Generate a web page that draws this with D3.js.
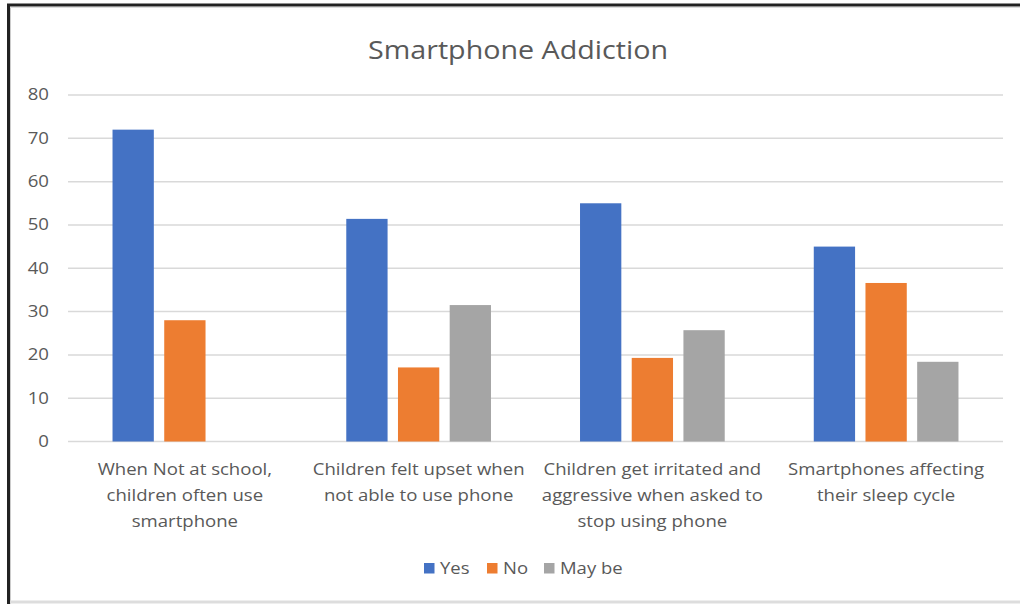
<!DOCTYPE html>
<html><head><meta charset="utf-8">
<script src="https://cdn.jsdelivr.net/npm/d3@7"></script>
<style>body{margin:0;background:#fff;} svg{display:block;}</style>
</head><body>
<svg id="c" width="1020" height="604"></svg>
<script>
const categories = [
  ["When Not at school,", "children often use", "smartphone"],
  ["Children felt upset when", "not able to use phone"],
  ["Children get irritated and", "aggressive when asked to", "stop using phone"],
  ["Smartphones affecting", "their sleep cycle"]
];
const seriesNames = ["Yes", "No", "May be"];
const yesValues = [72, 51.4, 55, 45];
const noValues = [28, 17.1, 19.3, 36.6];
const maybeValues = [null, 31.5, 25.7, 18.4];
const yTicks = [0, 10, 20, 30, 40, 50, 60, 70, 80];
const colors = ["#4472C4", "#ED7D31", "#A5A5A5"];

(function () {
const font = "'Open Sans', 'Noto Sans', sans-serif";
const textColor = "#595959";
const svg = d3.select("#c");

function stretch(sel, f) {
  sel.each(function () {
    const w = this.getComputedTextLength();
    d3.select(this).attr("textLength", w * f).attr("lengthAdjust", "spacingAndGlyphs");
  });
}

// frame
svg.append("rect").attr("x", 0).attr("y", 0).attr("width", 1020).attr("height", 604).attr("fill", "#fff");
svg.append("line").attr("x1", 8.5).attr("x2", 8.5).attr("y1", 4).attr("y2", 604).attr("stroke", "#222").attr("stroke-width", 3);
svg.append("line").attr("x1", 7).attr("x2", 1020).attr("y1", 5).attr("y2", 5).attr("stroke", "#222").attr("stroke-width", 3);
svg.append("line").attr("x1", 10.5).attr("x2", 10.5).attr("y1", 7).attr("y2", 604).attr("stroke", "#ccc").attr("stroke-width", 1);
svg.append("line").attr("x1", 10).attr("x2", 1020).attr("y1", 7.5).attr("y2", 7.5).attr("stroke", "#ddd").attr("stroke-width", 1);
svg.append("line").attr("x1", 10).attr("x2", 1020).attr("y1", 602).attr("y2", 602).attr("stroke", "#ddd").attr("stroke-width", 3);

const pLeft = 68, pRight = 1003, pTop = 95, pBottom = 441.5;
const x0 = d3.scaleBand().domain(d3.range(categories.length)).range([pLeft, pRight]).paddingInner(0).paddingOuter(0);
const y = d3.scaleLinear().domain([0, 80]).range([pBottom, pTop]);

// gridlines
svg.append("g").selectAll("line").data(yTicks).join("line")
  .attr("x1", pLeft).attr("x2", pRight)
  .attr("y1", d => y(d)).attr("y2", d => y(d))
  .attr("stroke", "#D9D9D9").attr("stroke-width", 1.5);

// y tick labels
const yt = svg.append("g").selectAll("text").data(yTicks).join("text")
  .attr("x", 49).attr("y", d => y(d)).attr("dy", "0.35em")
  .attr("text-anchor", "end").attr("font-family", font).attr("font-size", 15.5)
  .attr("fill", textColor).text(d => d);
stretch(yt, 1.2);

// bars
const barW = 41.3, gap = 10.4;
const groupW = barW * 3 + gap * 2;
const series = [yesValues, noValues, maybeValues];
series.forEach((vals, si) => {
  svg.append("g").selectAll("rect").data(vals.map((v, i) => ({v, i})).filter(d => d.v != null)).join("rect")
    .attr("x", d => x0(d.i) + x0.bandwidth() / 2 - groupW / 2 + si * (barW + gap))
    .attr("y", d => y(d.v))
    .attr("width", barW)
    .attr("height", d => y(0) - y(d.v))
    .attr("fill", colors[si]);
});

// x labels
const xl = svg.append("g");
categories.forEach((lines, i) => {
  const t = xl.append("text").attr("text-anchor", "middle").attr("font-family", font)
    .attr("font-size", 16.5).attr("fill", textColor);
  lines.forEach((ln, j) => {
    t.append("tspan").attr("x", x0(i) + x0.bandwidth() / 2).attr("y", 475 + j * 25.8).text(ln);
  });
});
stretch(xl.selectAll("tspan"), 1.125);

// title
const title = svg.append("text").attr("x", 518).attr("y", 59).attr("text-anchor", "middle")
  .attr("font-family", font).attr("font-size", 25.5).attr("fill", textColor)
  .text("Smartphone Addiction");
title.attr("textLength", 300).attr("lengthAdjust", "spacingAndGlyphs");

// legend
const legendX = [424, 487, 544];
const lg = svg.append("g");
seriesNames.forEach((n, i) => {
  lg.append("rect").attr("x", legendX[i]).attr("y", 563).attr("width", 10.5).attr("height", 10.5).attr("fill", colors[i]);
  const tx = lg.append("text").attr("x", legendX[i] + 16).attr("y", 568.5).attr("dy", "0.35em")
    .attr("font-family", font).attr("font-size", 16.5).attr("fill", textColor).text(n);
  stretch(tx, 1.12);
});
})();
</script>
</body></html>
